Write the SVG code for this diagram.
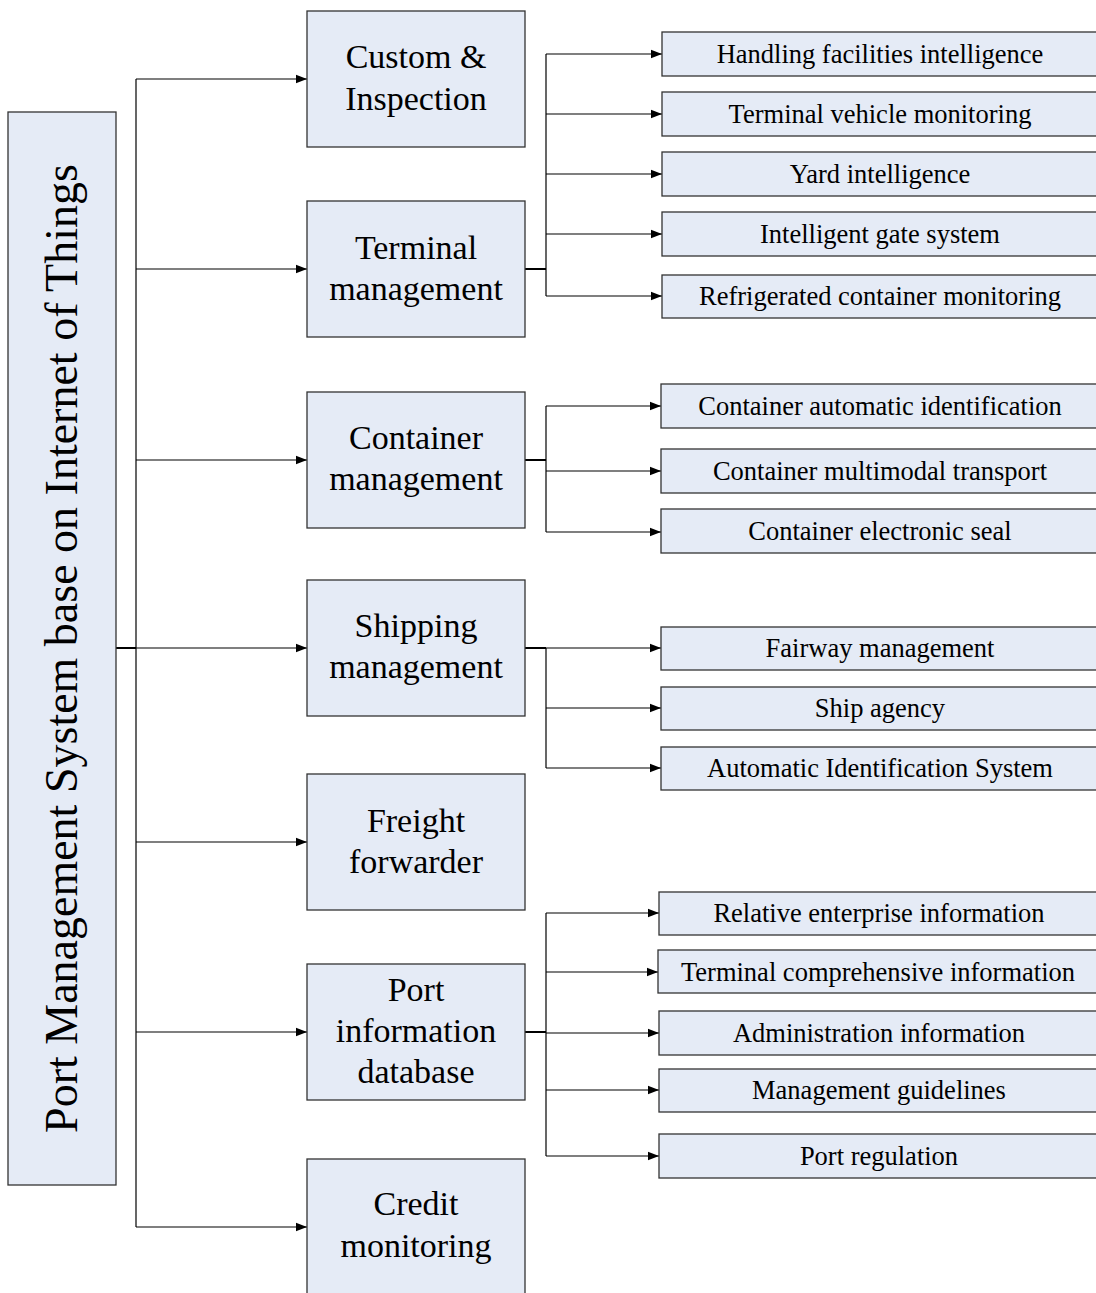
<svg xmlns="http://www.w3.org/2000/svg" width="1096" height="1293" viewBox="0 0 1096 1293">
<style>
.box{fill:#E5EBF6;stroke:#333;stroke-width:1.3}
.t{font-family:"Liberation Serif","Times New Roman",serif;fill:#000;text-anchor:middle}
.l2{font-size:34px}
.l3{font-size:26.5px}
.c{fill:none;stroke:#000;stroke-width:1.2}
.cb{fill:none;stroke:#000;stroke-width:2}
</style>
<defs>
<marker id="ah" markerUnits="userSpaceOnUse" markerWidth="11" markerHeight="10" refX="11" refY="5" orient="auto">
<path d="M0,0.8 L11,5 L0,9.2 z" fill="#000"/>
</marker>
</defs>
<rect width="1096" height="1293" fill="#fff"/>

<g id="connectors">
<line class="cb" x1="116" y1="648" x2="136" y2="648"/>
<line class="c" x1="136" y1="79" x2="136" y2="1227"/>
<line class="c" x1="136" y1="79" x2="307" y2="79" marker-end="url(#ah)"/>
<line class="c" x1="136" y1="269" x2="307" y2="269" marker-end="url(#ah)"/>
<line class="c" x1="136" y1="460" x2="307" y2="460" marker-end="url(#ah)"/>
<line class="c" x1="136" y1="648" x2="307" y2="648" marker-end="url(#ah)"/>
<line class="c" x1="136" y1="842" x2="307" y2="842" marker-end="url(#ah)"/>
<line class="c" x1="136" y1="1032" x2="307" y2="1032" marker-end="url(#ah)"/>
<line class="c" x1="136" y1="1227" x2="307" y2="1227" marker-end="url(#ah)"/>

<line class="cb" x1="525" y1="269" x2="546" y2="269"/>
<line class="c" x1="546" y1="54" x2="546" y2="296"/>
<line class="c" x1="546" y1="54" x2="662" y2="54" marker-end="url(#ah)"/>
<line class="c" x1="546" y1="114" x2="662" y2="114" marker-end="url(#ah)"/>
<line class="c" x1="546" y1="174" x2="662" y2="174" marker-end="url(#ah)"/>
<line class="c" x1="546" y1="234" x2="662" y2="234" marker-end="url(#ah)"/>
<line class="c" x1="546" y1="296" x2="662" y2="296" marker-end="url(#ah)"/>

<line class="cb" x1="525" y1="460" x2="546" y2="460"/>
<line class="c" x1="546" y1="406" x2="546" y2="532"/>
<line class="c" x1="546" y1="406" x2="661" y2="406" marker-end="url(#ah)"/>
<line class="c" x1="546" y1="471" x2="661" y2="471" marker-end="url(#ah)"/>
<line class="c" x1="546" y1="532" x2="661" y2="532" marker-end="url(#ah)"/>

<line class="cb" x1="525" y1="648" x2="546" y2="648"/>
<line class="c" x1="546" y1="648" x2="546" y2="768"/>
<line class="c" x1="546" y1="648" x2="661" y2="648" marker-end="url(#ah)"/>
<line class="c" x1="546" y1="708" x2="661" y2="708" marker-end="url(#ah)"/>
<line class="c" x1="546" y1="768" x2="661" y2="768" marker-end="url(#ah)"/>

<line class="cb" x1="525" y1="1032" x2="546" y2="1032"/>
<line class="c" x1="546" y1="913" x2="546" y2="1156"/>
<line class="c" x1="546" y1="913" x2="659" y2="913" marker-end="url(#ah)"/>
<line class="c" x1="546" y1="972" x2="658" y2="972" marker-end="url(#ah)"/>
<line class="c" x1="546" y1="1033" x2="659" y2="1033" marker-end="url(#ah)"/>
<line class="c" x1="546" y1="1090" x2="659" y2="1090" marker-end="url(#ah)"/>
<line class="c" x1="546" y1="1156" x2="659" y2="1156" marker-end="url(#ah)"/>
</g>

<g id="root">
<rect class="box" x="8" y="112" width="108" height="1073"/>
<text class="t" font-size="46" transform="translate(77,648.5) rotate(-90)" x="0" y="0">Port Management System base on Internet of Things</text>
</g>

<g id="custom">
<rect class="box" x="307" y="11" width="218" height="136"/>
<text class="t l2" x="416" y="68">Custom &amp;</text>
<text class="t l2" x="416" y="110">Inspection</text>
</g>
<g id="terminal">
<rect class="box" x="307" y="201" width="218" height="136"/>
<text class="t l2" x="416" y="259">Terminal</text>
<text class="t l2" x="416" y="300">management</text>
</g>
<g id="container">
<rect class="box" x="307" y="392" width="218" height="136"/>
<text class="t l2" x="416" y="449">Container</text>
<text class="t l2" x="416" y="490">management</text>
</g>
<g id="shipping">
<rect class="box" x="307" y="580" width="218" height="136"/>
<text class="t l2" x="416" y="637">Shipping</text>
<text class="t l2" x="416" y="678">management</text>
</g>
<g id="freight">
<rect class="box" x="307" y="774" width="218" height="136"/>
<text class="t l2" x="416" y="832">Freight</text>
<text class="t l2" x="416" y="873">forwarder</text>
</g>
<g id="portinfo">
<rect class="box" x="307" y="964" width="218" height="136"/>
<text class="t l2" x="416" y="1001">Port</text>
<text class="t l2" x="416" y="1042">information</text>
<text class="t l2" x="416" y="1083">database</text>
</g>
<g id="credit">
<rect class="box" x="307" y="1159" width="218" height="140"/>
<text class="t l2" x="416" y="1215">Credit</text>
<text class="t l2" x="416" y="1257">monitoring</text>
</g>

<g id="handling"><rect class="box" x="662" y="32" width="440" height="44"/><text class="t l3" x="880" y="63">Handling facilities intelligence</text></g>
<g id="vehicle"><rect class="box" x="662" y="92" width="440" height="44"/><text class="t l3" x="880" y="123">Terminal vehicle monitoring</text></g>
<g id="yard"><rect class="box" x="662" y="152" width="440" height="44"/><text class="t l3" x="880" y="183">Yard intelligence</text></g>
<g id="gate"><rect class="box" x="662" y="212" width="440" height="44"/><text class="t l3" x="880" y="243">Intelligent gate system</text></g>
<g id="reefer"><rect class="box" x="662" y="275" width="440" height="43"/><text class="t l3" x="880" y="305">Refrigerated container monitoring</text></g>

<g id="autoid"><rect class="box" x="661" y="384" width="440" height="44"/><text class="t l3" x="880" y="415">Container automatic identification</text></g>
<g id="multimodal"><rect class="box" x="661" y="449" width="440" height="44"/><text class="t l3" x="880" y="480">Container multimodal transport</text></g>
<g id="eseal"><rect class="box" x="661" y="509" width="440" height="44"/><text class="t l3" x="880" y="540">Container electronic seal</text></g>

<g id="fairway"><rect class="box" x="661" y="627" width="440" height="43"/><text class="t l3" x="880" y="657">Fairway management</text></g>
<g id="agency"><rect class="box" x="661" y="687" width="440" height="43"/><text class="t l3" x="880" y="717">Ship agency</text></g>
<g id="ais"><rect class="box" x="661" y="747" width="440" height="43"/><text class="t l3" x="880" y="777">Automatic Identification System</text></g>

<g id="relative"><rect class="box" x="659" y="892" width="440" height="43"/><text class="t l3" x="879" y="922">Relative enterprise information</text></g>
<g id="comprehensive"><rect class="box" x="658" y="950" width="440" height="43"/><text class="t l3" x="878" y="981">Terminal comprehensive information</text></g>
<g id="admin"><rect class="box" x="659" y="1011" width="440" height="44"/><text class="t l3" x="879" y="1042">Administration information</text></g>
<g id="guidelines"><rect class="box" x="659" y="1069" width="440" height="43"/><text class="t l3" x="879" y="1099">Management guidelines</text></g>
<g id="regulation"><rect class="box" x="659" y="1134" width="440" height="44"/><text class="t l3" x="879" y="1165">Port regulation</text></g>
</svg>
